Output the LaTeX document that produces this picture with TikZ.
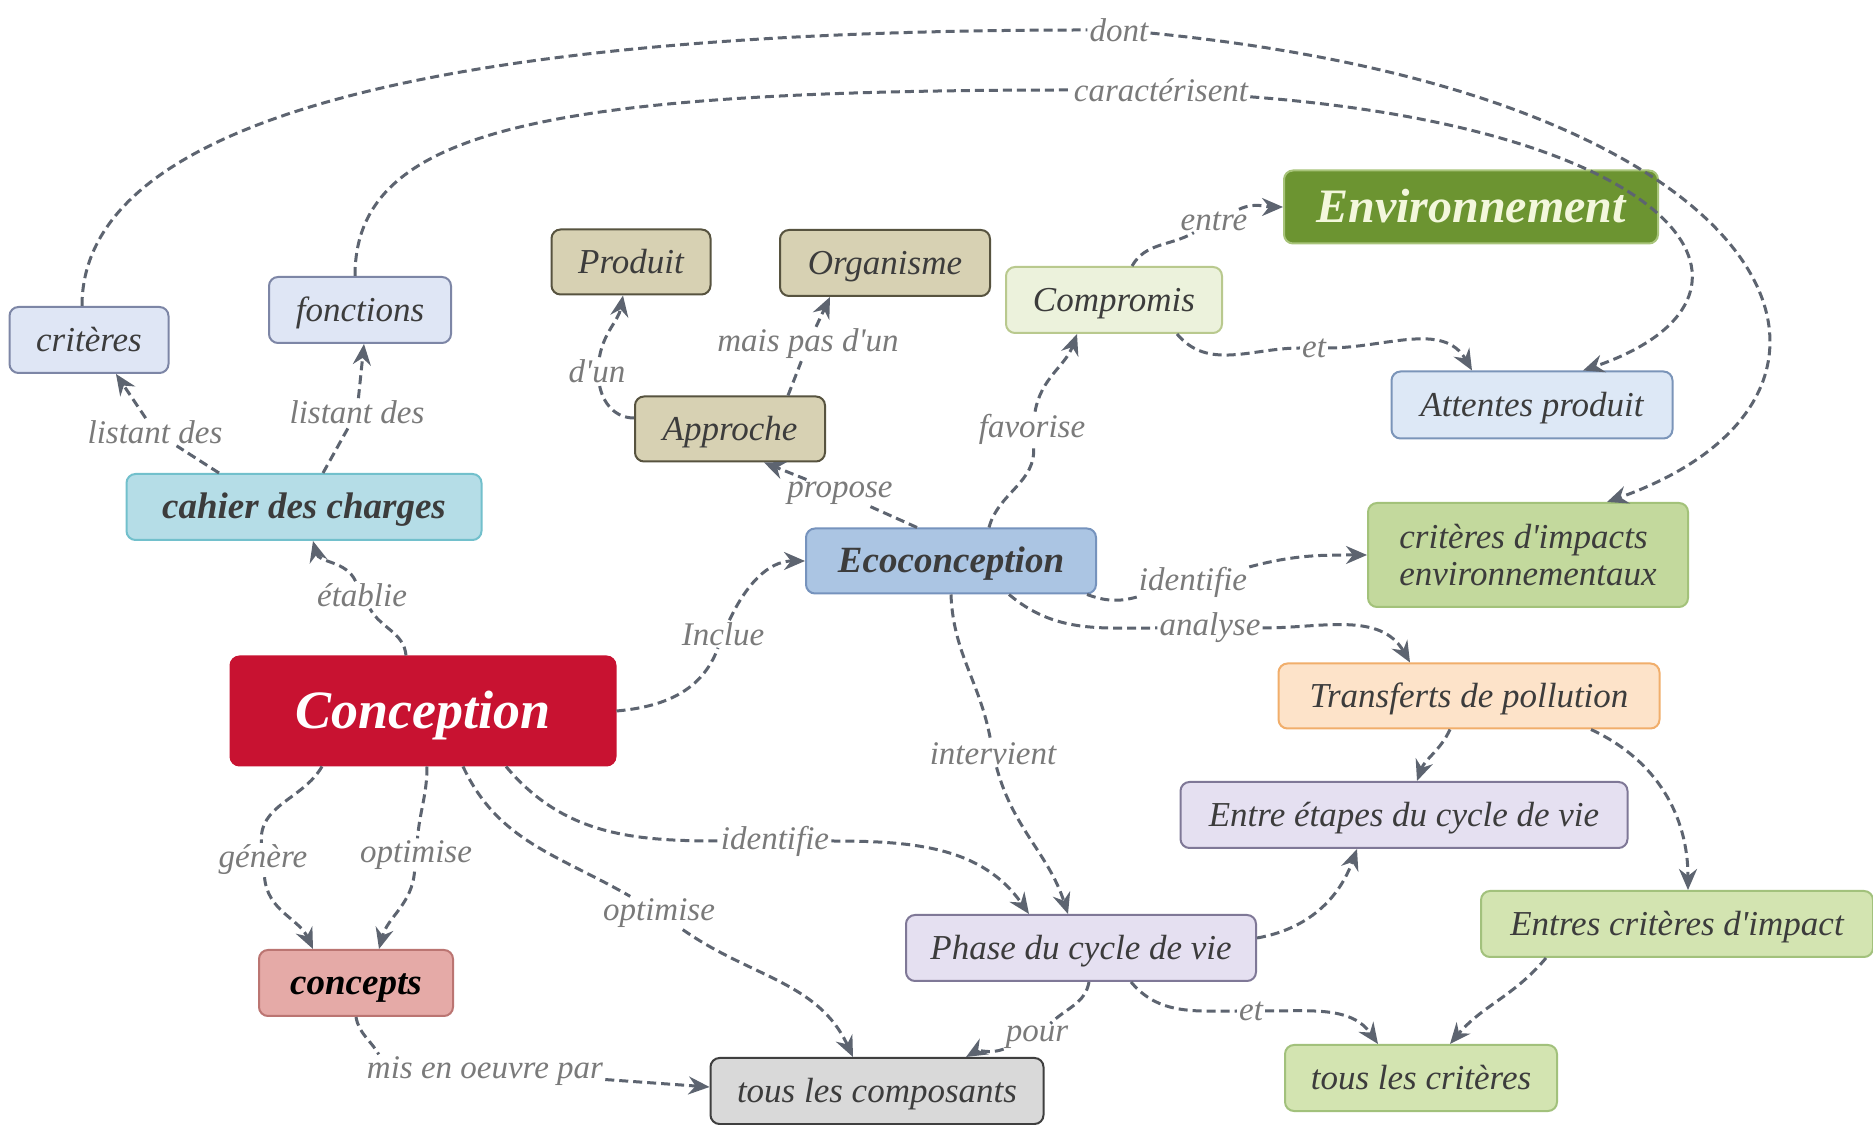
\documentclass[tikz,border=0pt]{standalone}
\usepackage{fontspec}
\setmainfont{Liberation Serif}
\usetikzlibrary{arrows.meta}

\definecolor{nodetext}{HTML}{3C3C3C}
\definecolor{labeltext}{HTML}{7A7A7A}
\definecolor{linkgrey}{HTML}{5D6470}
\definecolor{blueF}{HTML}{DFE6F5}\definecolor{blueD}{HTML}{7D86A6}
\definecolor{khakiF}{HTML}{D7D1B3}\definecolor{khakiD}{HTML}{57533F}
\definecolor{compF}{HTML}{ECF2DC}\definecolor{compD}{HTML}{B9C98E}
\definecolor{envF}{HTML}{6C9431}\definecolor{envD}{HTML}{A8C47A}\definecolor{envT}{HTML}{F3F7DC}
\definecolor{attF}{HTML}{DDE8F6}\definecolor{attD}{HTML}{7B95B9}
\definecolor{cdcF}{HTML}{B5DDE7}\definecolor{cdcD}{HTML}{72C0CC}
\definecolor{ecoF}{HTML}{ABC5E3}\definecolor{ecoD}{HTML}{7693BD}
\definecolor{cieF}{HTML}{C3D99D}\definecolor{cieD}{HTML}{A3C27A}
\definecolor{conF}{HTML}{C81231}
\definecolor{transF}{HTML}{FDE3C9}\definecolor{transD}{HTML}{F1AE6B}
\definecolor{lavF}{HTML}{E5E0F1}\definecolor{lavD}{HTML}{7F7897}
\definecolor{lgF}{HTML}{D3E4B1}\definecolor{lgD}{HTML}{A2C17C}
\definecolor{pinkF}{HTML}{E5AAA7}\definecolor{pinkD}{HTML}{BB7572}
\definecolor{greyF}{HTML}{D9D9D9}\definecolor{greyD}{HTML}{3F3F3F}

\newcommand{\apos}{\textquotesingle}

\begin{document}
\begin{tikzpicture}[x=1pt,y=1pt,
  boxbase/.style={rectangle, rounded corners=9pt, line width=2pt, inner sep=0pt,
    text=nodetext, font=\fontsize{35}{37}\selectfont\itshape},
  box/.style={boxbase, text height=24pt, text depth=1.5pt},
  boldbox/.style={box, font=\fontsize{37}{40}\selectfont\bfseries\itshape,
    text height=25pt, text depth=1.5pt},
  lbl/.style={inner sep=2pt, text=labeltext, font=\fontsize{33}{35}\selectfont\itshape},
  link/.style={draw=linkgrey, line width=3pt, dash pattern=on 9pt off 5pt},
  arr/.style={-{Stealth[length=21pt,width=18pt,inset=7pt]}},
]
\useasboundingbox (0,0) rectangle (1873,1124);
\fill[white] (0,0) rectangle (1873,1124);

% concepts
\node[box, fill=blueF, draw=blueD, minimum width=159pt, minimum height=66pt] (crit) at (89,784) {critères};
\node[box, fill=blueF, draw=blueD, minimum width=182pt, minimum height=66pt] (fonc) at (360,814) {fonctions};
\node[box, fill=khakiF, draw=khakiD, minimum width=159pt, minimum height=65pt] (prod) at (631,862) {Produit};
\node[box, fill=khakiF, draw=khakiD, minimum width=210pt, minimum height=66pt] (org) at (885,861) {Organisme};
\node[box, fill=compF, draw=compD, minimum width=216pt, minimum height=66pt] (comp) at (1114,824) {Compromis};
\node[box, fill=envF, draw=envD, text=envT, minimum width=374pt, minimum height=73pt,
  font=\fontsize{48}{50}\selectfont\bfseries\itshape, text height=33pt, text depth=2pt] (env) at (1471,917) {Environnement};
\node[box, fill=attF, draw=attD, minimum width=281pt, minimum height=67pt] (att) at (1532,719) {Attentes produit};
\node[box, fill=khakiF, draw=khakiD, minimum width=190pt, minimum height=65pt] (appr) at (730,695) {Approche};
\node[boldbox, fill=cdcF, draw=cdcD, minimum width=355pt, minimum height=66pt] (cdc) at (304,617) {cahier des charges};
\node[boldbox, fill=ecoF, draw=ecoD, minimum width=290pt, minimum height=65pt] (eco) at (951,563) {Ecoconception};
\node[boxbase, fill=cieF, draw=cieD, minimum width=320pt, minimum height=104pt, align=left] (cie) at (1528,569) {critères d\apos impacts\\environnementaux};
\node[box, fill=conF, draw=conF, text=white, minimum width=385pt, minimum height=109pt,
  font=\fontsize{54}{56}\selectfont\bfseries\itshape, text height=37pt, text depth=2pt] (concep) at (423,413) {Conception};
\node[box, fill=transF, draw=transD, minimum width=381pt, minimum height=65pt] (trans) at (1469,428) {Transferts de pollution};
\node[box, fill=lavF, draw=lavD, minimum width=447pt, minimum height=66pt] (etapes) at (1404,309) {Entre étapes du cycle de vie};
\node[box, fill=lavF, draw=lavD, minimum width=350pt, minimum height=66pt] (phase) at (1081,176) {Phase du cycle de vie};
\node[box, fill=lgF, draw=lgD, minimum width=392pt, minimum height=66pt] (entres) at (1677,200) {Entres critères d\apos impact};
\node[boldbox, fill=pinkF, draw=pinkD, text=black, minimum width=194pt, minimum height=66pt] (concepts) at (356,141) {concepts};
\node[box, fill=greyF, draw=greyD, minimum width=333pt, minimum height=66pt] (tcomp) at (877,33) {tous les composants};
\node[box, fill=lgF, draw=lgD, minimum width=272pt, minimum height=66pt] (tcrit) at (1421,46) {tous les critères};

% link phrases
\node[lbl] (lEtab) at (362,529) {établie};
\node[lbl] (lList1) at (155,692) {listant des};
\node[lbl] (lList2) at (357,712) {listant des};
\node[lbl] (lDont) at (1119,1094) {dont};
\node[lbl] (lCar) at (1161,1034) {caractérisent};
\node[lbl] (lIncl) at (723,490) {Inclue};
\node[lbl] (lProp) at (840,631) {propose};
\node[lbl] (lDun) at (597,753) {d\apos un};
\node[lbl] (lMais) at (808,780) {mais pas d\apos un};
\node[lbl] (lFav) at (1032,695) {favorise};
\node[lbl] (lEntre) at (1214,903) {entre};
\node[lbl] (lEt1) at (1314,776) {et};
\node[lbl] (lId1) at (1193,542) {identifie};
\node[lbl] (lAnal) at (1210,496) {analyse};
\node[lbl] (lInterv) at (993,370) {intervient};
\node[lbl] (lId2) at (775,283) {identifie};
\node[lbl] (lGen) at (263,264) {génère};
\node[lbl] (lOpt1) at (416,269) {optimise};
\node[lbl] (lOpt2) at (659,211) {optimise};
\node[lbl] (lMis) at (485,53) {mis en oeuvre par};
\node[lbl] (lPour) at (1037,87) {pour};
\node[lbl] (lEt2) at (1251,113) {et};

% connectors
\draw[link] ([xshift=-17pt]concep.north) to[out=95,in=-60] (lEtab);
\draw[link,arr] (lEtab) to[out=115,in=-75] ([xshift=9pt]cdc.south);

\draw[link] ([xshift=-85pt]cdc.north) -- (lList1);
\draw[link,arr] (lList1) -- ([xshift=27pt]crit.south);

\draw[link] ([xshift=19pt]cdc.north) -- (lList2);
\draw[link,arr] (lList2) -- ([xshift=4pt]fonc.south);

\draw[link] ([xshift=-7pt]crit.north) .. controls (82,994) and (400,1094) .. (lDont);
\draw[link,arr] (lDont) .. controls (1792,1028) and (1911,730) .. ([xshift=79pt]cie.north);

\draw[link] ([xshift=-5pt]fonc.north) .. controls (355,993) and (538,1034) .. (lCar);
\draw[link,arr] (lCar) .. controls (1696,993) and (1792,825) .. ([xshift=51pt]att.north);

\draw[link] (concep.east) to[out=5,in=-110] (lIncl);
\draw[link,arr] (lIncl) to[out=65,in=180] (eco.west);

\draw[link] ([xshift=-34pt]eco.north) -- (lProp);
\draw[link,arr] (lProp) -- ([xshift=34pt]appr.south);

\draw[link] ([yshift=11pt]appr.west) to[out=180,in=-80] (lDun);
\draw[link,arr] (lDun) to[out=80,in=-100] ([xshift=-8pt]prod.south);

\draw[link] ([xshift=58pt]appr.north) -- (lMais);
\draw[link,arr] (lMais) -- ([xshift=-55pt]org.south);

\draw[link] ([xshift=38pt]eco.north) to[out=75,in=-85] (lFav);
\draw[link,arr] (lFav) to[out=80,in=-110] ([xshift=-37pt]comp.south);

\draw[link] ([xshift=18pt]comp.north) to[out=60,in=-150] (lEntre);
\draw[link,arr] (lEntre) to[out=25,in=180] (env.west);

\draw[link] ([xshift=63pt]comp.south) to[out=-50,in=180] (lEt1);
\draw[link,arr] (lEt1) to[out=0,in=120] ([xshift=-60pt]att.north);

\draw[link] ([xshift=-10pt]eco.south east) to[out=-20,in=-165] (lId1);
\draw[link,arr] (lId1) to[out=15,in=180] (cie.west);

\draw[link] ([xshift=58pt]eco.south) to[out=-40,in=180] (lAnal);
\draw[link,arr] (lAnal) to[out=0,in=120] ([xshift=-59pt]trans.north);

\draw[link] (eco.south) to[out=-88,in=100] (lInterv);
\draw[link,arr] (lInterv) to[out=-75,in=108] ([xshift=-13pt]phase.north);

\draw[link] ([xshift=83pt]concep.south) to[out=-50,in=180] (lId2);
\draw[link,arr] (lId2) to[out=0,in=125] ([xshift=-52pt]phase.north);

\draw[link] ([xshift=-101pt]concep.south) to[out=-120,in=95] (lGen);
\draw[link,arr] (lGen) to[out=-85,in=115] ([xshift=-43pt]concepts.north);

\draw[link] ([xshift=4pt]concep.south) to[out=-90,in=85] (lOpt1);
\draw[link,arr] (lOpt1) to[out=-95,in=75] ([xshift=23pt]concepts.north);

\draw[link] ([xshift=40pt]concep.south) to[out=-65,in=150] (lOpt2);
\draw[link,arr] (lOpt2) to[out=-35,in=115] ([xshift=-24pt]tcomp.north);

\draw[link] (concepts.south) to[out=-80,in=120] ([xshift=14pt]lMis.north west);
\draw[link,arr] (lMis) -- ([yshift=4pt]tcomp.west);

\draw[link] ([xshift=8pt]phase.south) to[out=-100,in=45] (lPour);
\draw[link,arr] (lPour) to[out=200,in=30] ([xshift=89pt]tcomp.north);

\draw[link] ([xshift=50pt]phase.south) to[out=-50,in=180] (lEt2);
\draw[link,arr] (lEt2) to[out=0,in=125] ([xshift=-43pt]tcrit.north);

\draw[link,arr] ([yshift=10pt]phase.east) to[out=10,in=-110] ([xshift=-47pt]etapes.south);
\draw[link,arr] ([xshift=-19pt]trans.south) to[out=-115,in=70] ([xshift=13pt]etapes.north);
\draw[link,arr] ([xshift=122pt]trans.south) to[out=-25,in=90] ([xshift=11pt]entres.north);
\draw[link,arr] ([xshift=-131pt]entres.south) to[out=-130,in=50] ([xshift=29pt]tcrit.north);
\end{tikzpicture}
\end{document}
